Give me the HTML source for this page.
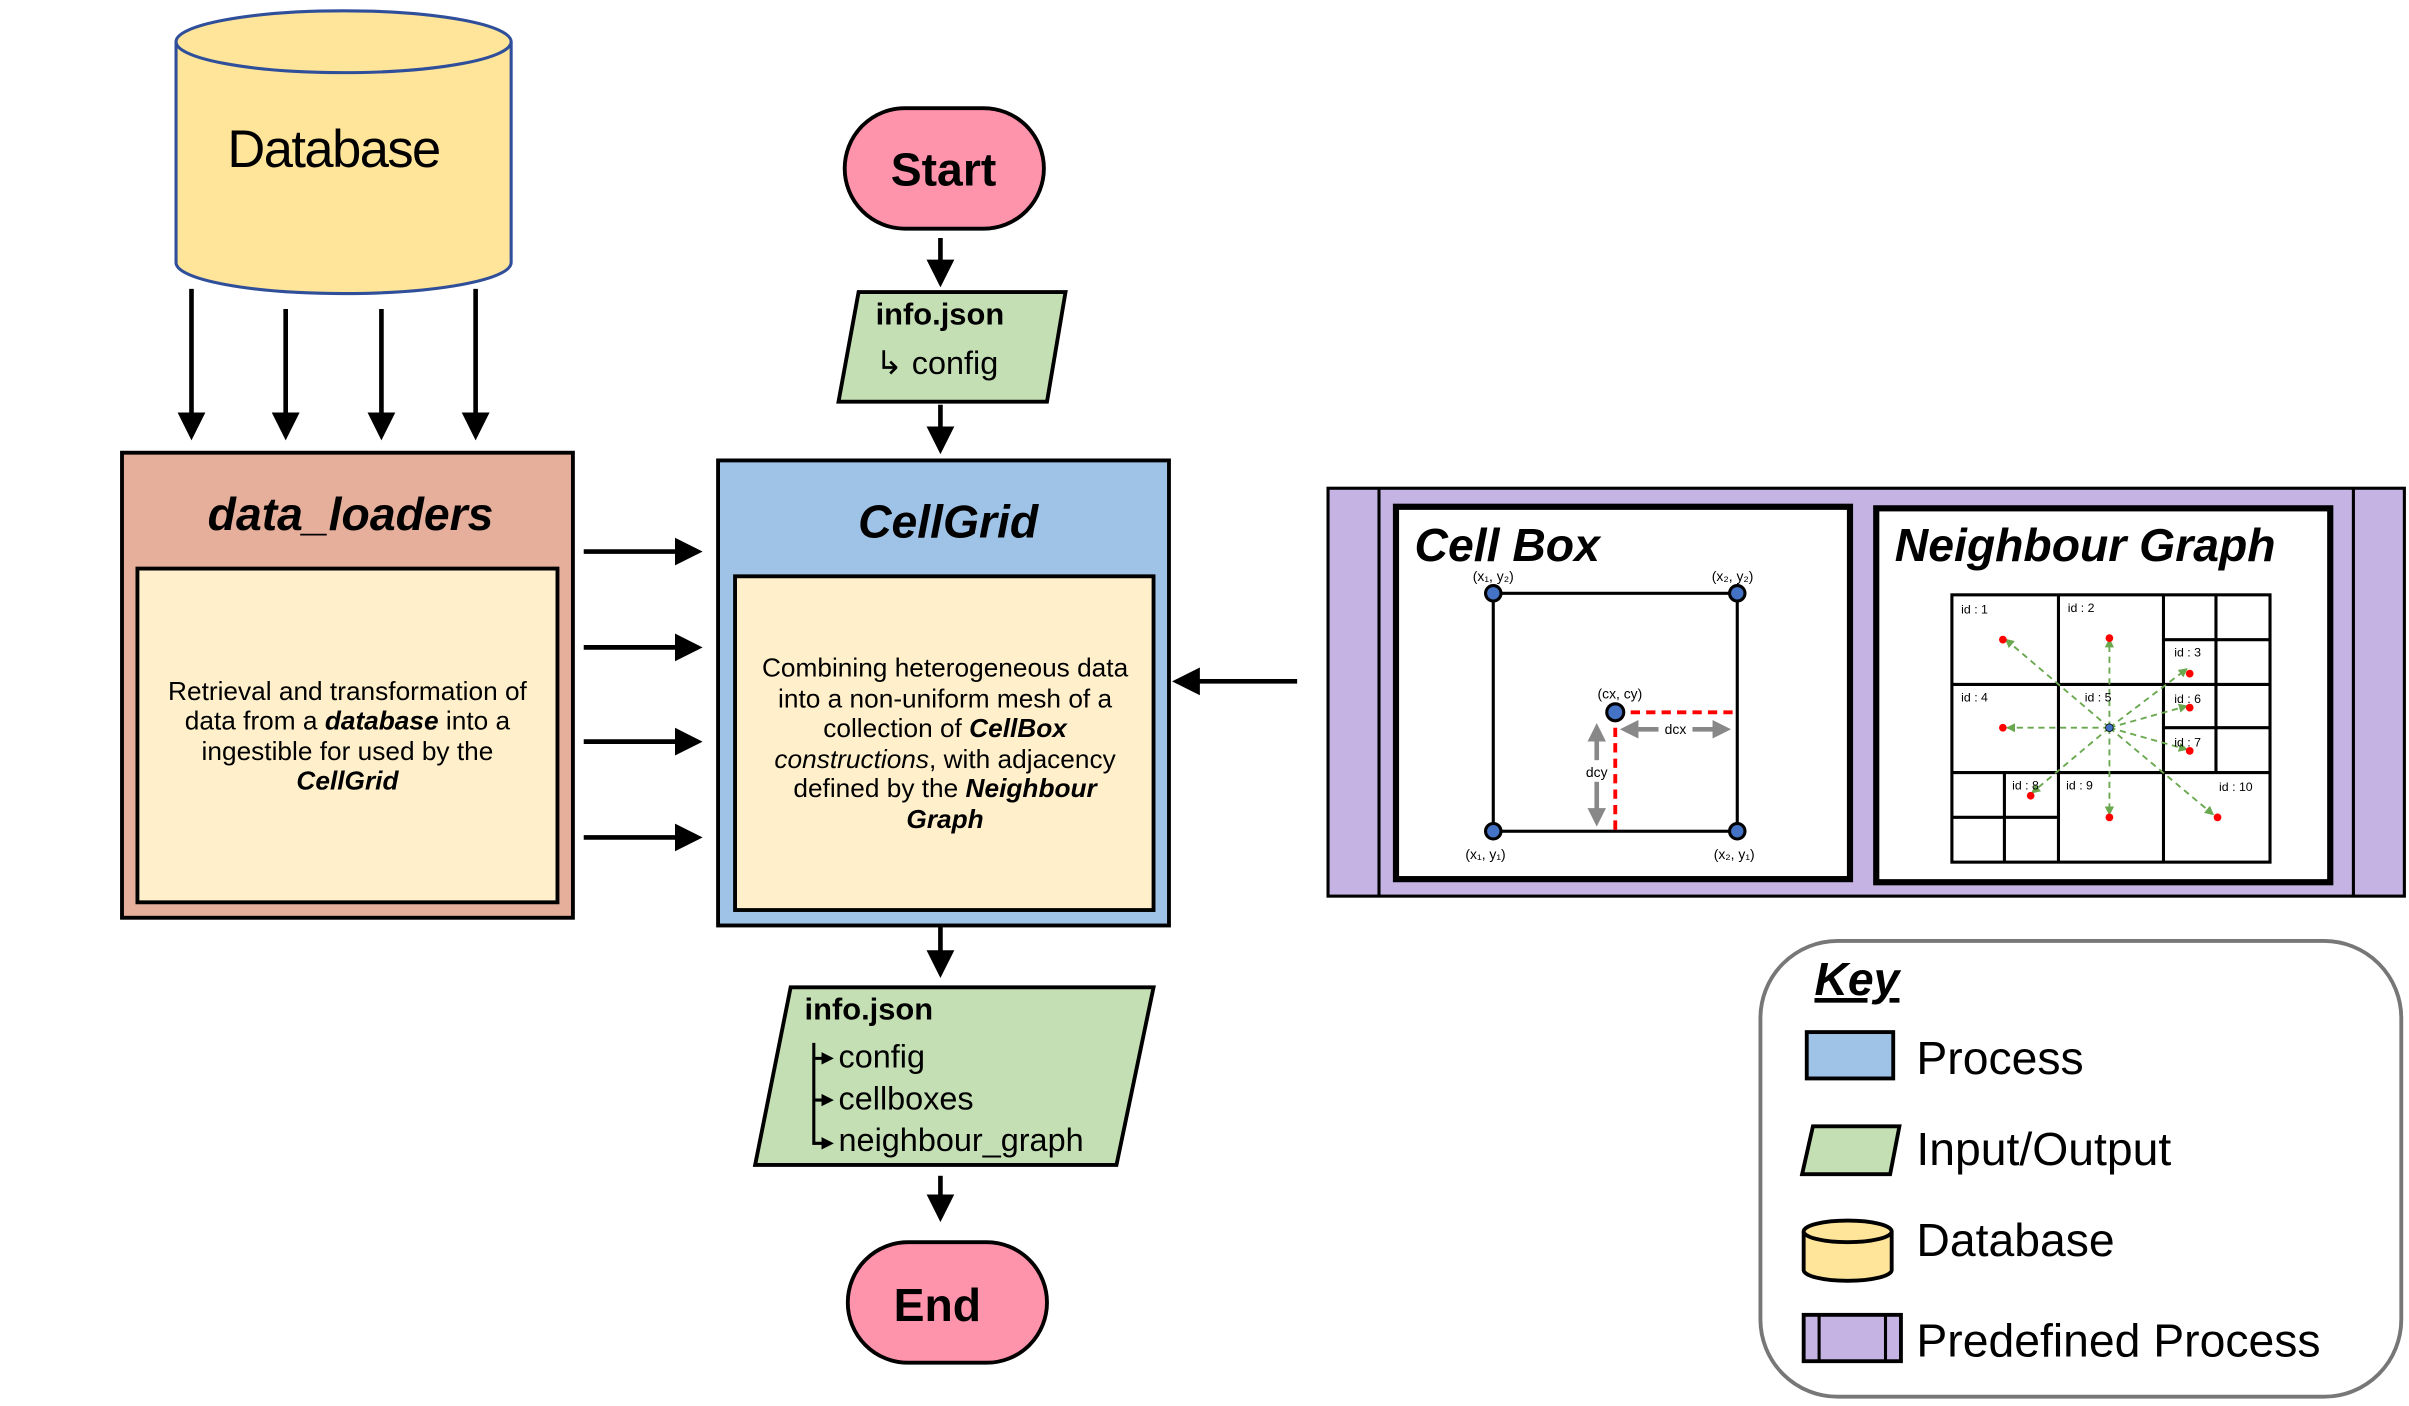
<!DOCTYPE html>
<html><head><meta charset="utf-8"><style>
html,body{margin:0;padding:0;background:#fff;}
svg{display:block;}
text{font-family:"Liberation Sans",sans-serif;}
</style></head><body>
<svg width="2409" height="1406" viewBox="0 0 1560 910" preserveAspectRatio="none" xmlns="http://www.w3.org/2000/svg">
<defs>
<marker id="ah" markerWidth="6" markerHeight="6" refX="5" refY="3" orient="auto" markerUnits="strokeWidth"><path d="M0,0 L6,3 L0,6 z" fill="#000"/></marker>
<marker id="ahs" markerWidth="8" markerHeight="8" refX="6" refY="4" orient="auto" markerUnits="userSpaceOnUse"><path d="M0,0 L8,4 L0,8 z" fill="#000"/></marker>
<marker id="ag" markerWidth="6" markerHeight="6" refX="5" refY="3" orient="auto" markerUnits="userSpaceOnUse"><path d="M0,0 L6,3 L0,6 z" fill="#6aa84f"/></marker>
<marker id="agr" markerWidth="4" markerHeight="4" refX="3" refY="2" orient="auto" markerUnits="strokeWidth"><path d="M0,0 L4,2 L0,4 z" fill="#888"/></marker>
<marker id="agr2" markerWidth="4" markerHeight="4" refX="1" refY="2" orient="auto" markerUnits="strokeWidth"><path d="M4,0 L0,2 L4,4 z" fill="#888"/></marker>
</defs>

<!-- Database -->
<path d="M114,27 L114,170 A108.5,20 0 0 0 331,170 L331,27" fill="#fee59a" stroke="#2f4f9a" stroke-width="2"/>
<ellipse cx="222.5" cy="27" rx="108.5" ry="20" fill="#fee59a" stroke="#2f4f9a" stroke-width="2"/>
<text x="216" y="108" font-size="34" text-anchor="middle" letter-spacing="-1">Database</text>

<g stroke="#000" stroke-width="3" marker-end="url(#ah)">
<line x1="124" y1="187" x2="124" y2="282"/>
<line x1="185" y1="200" x2="185" y2="282"/>
<line x1="247" y1="200" x2="247" y2="282"/>
<line x1="308" y1="187" x2="308" y2="282"/>
<line x1="378" y1="357" x2="452" y2="357"/>
<line x1="378" y1="419" x2="452" y2="419"/>
<line x1="378" y1="480" x2="452" y2="480"/>
<line x1="378" y1="542" x2="452" y2="542"/>
<line x1="609" y1="154" x2="609" y2="183"/>
<line x1="609" y1="262" x2="609" y2="291"/>
<line x1="609" y1="600" x2="609" y2="630"/>
<line x1="609" y1="761" x2="609" y2="788"/>
<line x1="840" y1="441" x2="762" y2="441"/>
</g>

<!-- data_loaders -->
<rect x="79" y="293" width="292" height="301" fill="#e6af9b" stroke="#000" stroke-width="2.5"/>
<text x="227" y="343" font-size="30" font-weight="bold" font-style="italic" text-anchor="middle">data_loaders</text>
<rect x="89" y="368" width="272" height="216" fill="#fff0cb" stroke="#000" stroke-width="2.5"/>
<g font-size="17" text-anchor="middle">
<text x="225" y="453">Retrieval and transformation of</text>
<text x="225" y="472">data from a <tspan font-weight="bold" font-style="italic">database</tspan> into a</text>
<text x="225" y="492">ingestible for used by the</text>
<text x="225" y="511" font-weight="bold" font-style="italic">CellGrid</text>
</g>

<!-- CellGrid -->
<rect x="465" y="298" width="292" height="301" fill="#9fc3e6" stroke="#000" stroke-width="2.5"/>
<text x="614" y="348" font-size="30" font-weight="bold" font-style="italic" text-anchor="middle">CellGrid</text>
<rect x="476" y="373" width="271" height="216" fill="#fff0cb" stroke="#000" stroke-width="2.5"/>
<g font-size="17" text-anchor="middle">
<text x="612" y="438">Combining heterogeneous data</text>
<text x="612" y="458">into a non-uniform mesh of a</text>
<text x="612" y="477">collection of <tspan font-weight="bold" font-style="italic">CellBox</tspan></text>
<text x="612" y="497"><tspan font-style="italic">constructions</tspan>, with adjacency</text>
<text x="612" y="516">defined by the <tspan font-weight="bold" font-style="italic">Neighbour</tspan></text>
<text x="612" y="536" font-weight="bold" font-style="italic">Graph</text>
</g>

<!-- Start -->
<rect x="547" y="70" width="129" height="78" rx="39" fill="#fe93ac" stroke="#000" stroke-width="2.5"/>
<text x="611" y="120" font-size="30" font-weight="bold" text-anchor="middle">Start</text>
<polygon points="556,189 690,189 678,260 543,260" fill="#c5dfb4" stroke="#000" stroke-width="2.5"/>
<text x="567" y="210" font-size="20" font-weight="bold">info.json</text>
<text x="567" y="242" font-size="21">↳ config</text>

<!-- output -->
<polygon points="512,639 747,639 723,754 489,754" fill="#c5dfb4" stroke="#000" stroke-width="2.5"/>
<text x="521" y="660" font-size="20" font-weight="bold">info.json</text>
<g font-size="21">
<text x="543" y="691">config</text>
<text x="543" y="718">cellboxes</text>
<text x="543" y="745">neighbour_graph</text>
</g>
<g stroke="#000" stroke-width="2" fill="none">
<line x1="527" y1="675" x2="527" y2="741"/>
<line x1="527" y1="685" x2="538" y2="685" marker-end="url(#ahs)"/>
<line x1="527" y1="712" x2="538" y2="712" marker-end="url(#ahs)"/>
<line x1="527" y1="740" x2="538" y2="740" marker-end="url(#ahs)"/>
</g>

<!-- End -->
<rect x="549" y="804" width="129" height="78" rx="39" fill="#fe93ac" stroke="#000" stroke-width="2.5"/>
<text x="607" y="855" font-size="30" font-weight="bold" text-anchor="middle">End</text>

<!-- Predefined process -->
<rect x="860" y="316" width="697" height="264" fill="#c5b3e3" stroke="#000" stroke-width="2"/>
<line x1="893" y1="316" x2="893" y2="580" stroke="#000" stroke-width="2"/>
<line x1="1524" y1="316" x2="1524" y2="580" stroke="#000" stroke-width="2"/>
<rect x="904" y="328" width="294" height="241" fill="#fff" stroke="#000" stroke-width="4"/>
<rect x="1215" y="329" width="294" height="242" fill="#fff" stroke="#000" stroke-width="4"/>
<text x="916" y="363" font-size="30" font-weight="bold" font-style="italic">Cell Box</text>
<text x="1227" y="363" font-size="30" font-weight="bold" font-style="italic">Neighbour Graph</text>

<!-- cell box drawing -->
<rect x="967" y="384" width="158" height="154" fill="none" stroke="#000" stroke-width="2"/>
<path d="M1046,461 L1125,461 M1046,461 L1046,538" stroke="#f00" stroke-width="2.5" stroke-dasharray="6,4" fill="none"/>
<line x1="1052" y1="472" x2="1118" y2="472" stroke="#888" stroke-width="3" marker-end="url(#agr)" marker-start="url(#agr2)"/>
<line x1="1034" y1="471" x2="1034" y2="532" stroke="#888" stroke-width="3" marker-end="url(#agr)" marker-start="url(#agr2)"/>
<rect x="1026" y="492" width="18" height="14" fill="#fff"/>
<rect x="1074" y="466" width="22" height="12" fill="#fff"/>
<g font-size="9" text-anchor="middle">
<text x="1034" y="503">dcy</text><text x="1085" y="475">dcx</text>
<text x="967" y="376">(x₁, y₂)</text><text x="1122" y="376">(x₂, y₂)</text>
<text x="962" y="556">(x₁, y₁)</text><text x="1123" y="556">(x₂, y₁)</text>
<text x="1049" y="452">(cx, cy)</text>
</g>
<g fill="#4472c4" stroke="#000" stroke-width="2">
<circle cx="967" cy="384" r="5"/><circle cx="1125" cy="384" r="5"/>
<circle cx="967" cy="538" r="5"/><circle cx="1125" cy="538" r="5"/>
<circle cx="1046" cy="461" r="5.5"/>
</g>

<!-- neighbour graph -->
<g stroke="#000" stroke-width="2" fill="none">
<rect x="1264" y="385" width="206" height="173"/>
<line x1="1333" y1="385" x2="1333" y2="558"/>
<line x1="1401" y1="385" x2="1401" y2="558"/>
<line x1="1435" y1="385" x2="1435" y2="500"/>
<line x1="1264" y1="443" x2="1470" y2="443"/>
<line x1="1264" y1="500" x2="1470" y2="500"/>
<line x1="1401" y1="414" x2="1470" y2="414"/>
<line x1="1401" y1="471" x2="1470" y2="471"/>
<line x1="1298" y1="500" x2="1298" y2="558"/>
<line x1="1264" y1="529" x2="1333" y2="529"/>
</g>
<g stroke="#6aa84f" stroke-width="1.2" stroke-dasharray="4,3" marker-end="url(#ag)">
<line x1="1366" y1="471" x2="1299" y2="414"/>
<line x1="1366" y1="471" x2="1366" y2="414"/>
<line x1="1366" y1="471" x2="1416" y2="433"/>
<line x1="1366" y1="471" x2="1300" y2="471"/>
<line x1="1366" y1="471" x2="1416" y2="457"/>
<line x1="1366" y1="471" x2="1416" y2="485"/>
<line x1="1366" y1="471" x2="1316" y2="513"/>
<line x1="1366" y1="471" x2="1366" y2="527"/>
<line x1="1366" y1="471" x2="1433" y2="527"/>
</g>
<g fill="#f00">
<circle cx="1297" cy="414" r="2.5"/><circle cx="1366" cy="413" r="2.5"/><circle cx="1418" cy="436" r="2.5"/>
<circle cx="1297" cy="471" r="2.5"/><circle cx="1418" cy="458" r="2.5"/><circle cx="1418" cy="486" r="2.5"/>
<circle cx="1315" cy="515" r="2.5"/><circle cx="1366" cy="529" r="2.5"/><circle cx="1436" cy="529" r="2.5"/>
</g>
<circle cx="1366" cy="471" r="2.5" fill="#4472c4" stroke="#000" stroke-width="0.5"/>
<g font-size="8">
<text x="1270" y="397">id : 1</text><text x="1339" y="396">id : 2</text><text x="1408" y="425">id : 3</text>
<text x="1270" y="454">id : 4</text><text x="1350" y="454">id : 5</text><text x="1408" y="455">id : 6</text>
<text x="1408" y="483">id : 7</text><text x="1303" y="511">id : 8</text><text x="1338" y="511">id : 9</text>
<text x="1437" y="512">id : 10</text>
</g>

<!-- Key -->
<rect x="1140" y="609" width="415" height="295" rx="50" fill="#fff" stroke="#777" stroke-width="2.5"/>
<text x="1175" y="644" font-size="30" font-weight="bold" font-style="italic" text-decoration="underline">Key</text>
<rect x="1170" y="668" width="56" height="30" fill="#9fc3e6" stroke="#000" stroke-width="2.5"/>
<polygon points="1174,729 1230,729 1224,760 1167,760" fill="#c5dfb4" stroke="#000" stroke-width="2.5"/>
<path d="M1168,797 L1168,822 A28.5,7 0 0 0 1225,822 L1225,797" fill="#fee59a" stroke="#000" stroke-width="2.5"/>
<ellipse cx="1196.5" cy="797" rx="28.5" ry="7" fill="#fee59a" stroke="#000" stroke-width="2.5"/>
<rect x="1168" y="851" width="63" height="30" fill="#c5b3e3" stroke="#000" stroke-width="2.5"/>
<line x1="1178" y1="851" x2="1178" y2="881" stroke="#000" stroke-width="2"/>
<line x1="1221" y1="851" x2="1221" y2="881" stroke="#000" stroke-width="2"/>
<g font-size="30">
<text x="1241" y="695">Process</text>
<text x="1241" y="754">Input/Output</text>
<text x="1241" y="813">Database</text>
<text x="1241" y="878">Predefined Process</text>
</g>
</svg>
</body></html>
